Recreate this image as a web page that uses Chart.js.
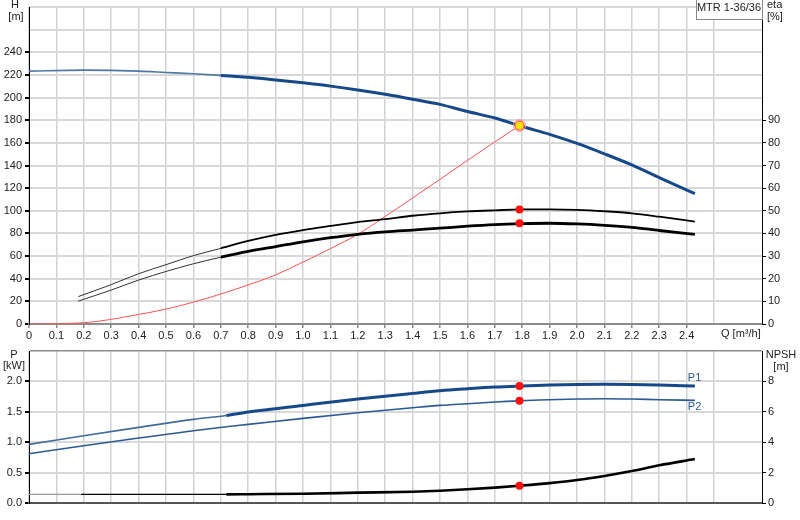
<!DOCTYPE html>
<html>
<head>
<meta charset="utf-8">
<title>MTR 1-36/36</title>
<script src="https://cdn.jsdelivr.net/npm/chart.js@4.4.1/dist/chart.umd.min.js"></script>
<style>
  body { margin: 0; background: #fff; }
  #wrap { position: relative; width: 800px; height: 520px; }
  canvas { position: absolute; left: 0; }
  #curves { top: 0; }
  #power { top: 340px; }
</style>
</head>
<body>
<div id="wrap">
  <canvas id="curves" width="800" height="340"></canvas>
  <canvas id="power" width="800" height="180"></canvas>
</div>
<script>
// values, Q in m3/h
const qHead = [0, 0.2, 0.4, 0.5, 0.6, 0.7, 0.8, 0.9, 1.0, 1.1, 1.2, 1.3, 1.4, 1.5, 1.6, 1.7, 1.8, 1.9, 2.0, 2.1, 2.2, 2.3, 2.43];
const head = [223.4, 224.2, 223.4, 222.2, 221, 219.6, 217.9, 215.6, 213, 210.1, 206.7, 202.9, 198.6, 194, 187.7, 182, 174.4, 167.5, 159.5, 150.3, 140.5, 129.3, 115.1];

const qSystem = [0, 0.2, 0.4, 0.5, 0.6, 0.7, 0.8, 0.9, 1.0, 1.1, 1.2, 1.3, 1.4, 1.5, 1.6, 1.7, 1.79];
const systemHead = [0, 1.1, 8.4, 13.2, 19.3, 26.5, 34.5, 43.4, 54.7, 66.6, 79.2, 95, 111.3, 127.8, 144.5, 160.8, 175.3];

const qEta = [0.18, 0.3, 0.4, 0.5, 0.6, 0.7, 0.8, 0.9, 1.0, 1.1, 1.2, 1.3, 1.4, 1.5, 1.6, 1.7, 1.8, 1.9, 2.0, 2.1, 2.2, 2.3, 2.43];
const etaPump = [12.1, 17.4, 22.2, 26.2, 30.2, 33.4, 36.7, 39.4, 41.5, 43.3, 45, 46.3, 47.8, 48.9, 49.7, 50.2, 50.6, 50.6, 50.4, 49.8, 48.9, 47.4, 45.2];
const etaTotal = [10.1, 15, 19.4, 23.2, 26.6, 29.5, 32.1, 34.2, 36.3, 38.1, 39.6, 40.7, 41.5, 42.3, 43.2, 43.9, 44.3, 44.5, 44.2, 43.6, 42.7, 41.3, 39.6];

const qPower = [0, 0.2, 0.4, 0.6, 0.72, 0.8, 1.0, 1.2, 1.4, 1.5, 1.6, 1.7, 1.8, 1.9, 2.0, 2.1, 2.2, 2.3, 2.43];
const p1 = [0.964, 1.107, 1.244, 1.375, 1.44, 1.496, 1.605, 1.71, 1.803, 1.847, 1.879, 1.907, 1.925, 1.94, 1.95, 1.953, 1.95, 1.94, 1.923];
const p2 = [0.811, 0.942, 1.068, 1.189, 1.254, 1.293, 1.392, 1.485, 1.567, 1.605, 1.633, 1.66, 1.684, 1.699, 1.71, 1.715, 1.71, 1.699, 1.688];

const qNpsh = [0, 0.19, 0.4, 0.6, 0.72, 0.8, 1.0, 1.2, 1.4, 1.5, 1.6, 1.7, 1.8, 1.9, 2.0, 2.1, 2.2, 2.3, 2.43];
const npsh = [0.57, 0.57, 0.57, 0.57, 0.57, 0.58, 0.61, 0.68, 0.745, 0.81, 0.9, 1.01, 1.15, 1.31, 1.51, 1.78, 2.1, 2.48, 2.89];

// duty point
const dutyQ = 1.79;
const dutyHead = 175.3;
const dutyEta = [50.6, 44.5];
const dutyP1 = 1.923;
const dutyP2 = 1.682;
const dutyNpsh = 1.14;

const qMax = 2.675;

Chart.defaults.font.family = '"Liberation Sans", Arial, sans-serif';
Chart.defaults.font.size = 11;
Chart.defaults.color = '#222';
Chart.defaults.animation = false;

const pts = (xs, ys) => xs.map((x, i) => ({ x: x, y: ys[i] }));
const from = (q, before, after) => c => c.p0.parsed.x < q - 1e-6 ? before : after;
const fixW = w => s => { s.width = w; s.paddingTop = 0; s.paddingBottom = 0; };
const fixH = h => s => { s.height = h; s.paddingLeft = 0; s.paddingRight = 0; };
const hidden = 'rgba(0,0,0,0)';

function curve(data, axis, color, width, extra) {
  return Object.assign({
    data: data, yAxisID: axis, borderColor: color, borderWidth: width,
    pointRadius: 0, fill: false, cubicInterpolationMode: 'monotone'
  }, extra || {});
}
function dot(x, y, axis) {
  return { data: [{ x: x, y: y }], yAxisID: axis, showLine: false,
    pointRadius: 4, pointBackgroundColor: '#ff1010', pointBorderWidth: 0 };
}

function textPlugin(items) {
  return {
    id: 'texts',
    afterDraw(chart) {
      const c = chart.ctx;
      c.save();
      c.font = '11px "Liberation Sans", Arial, sans-serif';
      c.textBaseline = 'middle';
      items(chart).forEach(t => {
        if (t.box) {
          c.fillStyle = '#fff';
          c.fillRect(t.box[0], t.box[1], t.box[2], t.box[3]);
          c.strokeStyle = '#888';
          c.lineWidth = 1;
          c.strokeRect(t.box[0] + 0.5, t.box[1] + 0.5, t.box[2], t.box[3]);
        }
        c.fillStyle = t.color || '#222';
        c.textAlign = t.align || 'center';
        c.fillText(t.text, t.x, t.y);
      });
      c.restore();
    }
  };
}

// ---- Q-H / eta chart ----
new Chart(document.getElementById('curves'), {
  type: 'line',
  data: {
    datasets: [
      { data: [{ x: dutyQ, y: dutyHead }], yAxisID: 'y', showLine: false,
        pointRadius: 4.5, pointBackgroundColor: '#ffe400', pointBorderColor: '#ff5a5a', pointBorderWidth: 1.2 },
      { data: [{ x: dutyQ, y: dutyHead }], yAxisID: 'y', showLine: false,
        pointRadius: 6, pointBackgroundColor: hidden, pointBorderColor: '#ff9a9a', pointBorderWidth: 1 },
      dot(dutyQ, dutyEta[0], 'yEta'),
      dot(dutyQ, dutyEta[1], 'yEta'),
      curve(pts(qHead, head), 'y', '#17498a', 3, {
        segment: { borderWidth: from(0.7, 1.6, 3), borderColor: from(0.7, '#4f77a6', '#17498a') } }),
      curve(pts(qEta, etaPump), 'yEta', '#000', 1.8, {
        segment: { borderWidth: from(0.7, 1, 1.8), borderColor: from(0.7, '#333', '#000') } }),
      curve(pts(qEta, etaTotal), 'yEta', '#000', 2.8, {
        segment: { borderWidth: from(0.7, 1, 2.8), borderColor: from(0.7, '#333', '#000') } }),
      curve(pts(qSystem, systemHead), 'y', '#ff5252', 1)
    ]
  },
  options: {
    responsive: false,
    devicePixelRatio: 1,
    layout: { padding: 0 },
    plugins: { legend: { display: false }, tooltip: { enabled: false } },
    scales: {
      x: {
        type: 'linear', min: 0, max: qMax,
        afterBuildTicks: s => { s.ticks = s.ticks.filter(t => t.value < 2.65); },
        ticks: { stepSize: 0.1, padding: 1, maxRotation: 0, autoSkip: false,
          callback: v => v > 2.45 ? '' : (Math.abs(v) < 1e-9 ? '0' : v.toFixed(1)) },
        grid: { color: '#cfd3d7', lineWidth: 1.5, tickLength: 4,
          tickColor: c => c.tick && c.tick.value > 2.45 ? hidden : '#888' },
        border: { color: '#8c8c8c', width: 2 },
        afterFit: fixH(16)
      },
      y: {
        position: 'left', min: 0, max: 280,
        ticks: { stepSize: 20, padding: 3, callback: v => v > 240 ? '' : v },
        grid: { color: '#d8d8d8', lineWidth: 2, tickLength: 4,
          tickColor: c => c.tick && c.tick.value > 240 ? hidden : '#000' },
        border: { color: '#000', width: 1 },
        afterFit: fixW(29)
      },
      yEta: {
        position: 'right', min: 0, max: 140,
        afterBuildTicks: s => { s.ticks = s.ticks.filter(t => t.value <= 90); },
        ticks: { stepSize: 10, padding: 2 },
        grid: { drawOnChartArea: false, tickLength: 4, tickColor: '#000' },
        border: { color: '#000', width: 1 },
        afterFit: fixW(38)
      }
    }
  },
  plugins: [textPlugin(() => [
    { text: 'H', x: 15, y: 5 },
    { text: '[m]', x: 16, y: 17 },
    { text: 'eta', x: 767, y: 5, align: 'left' },
    { text: '[%]', x: 767, y: 17, align: 'left' },
    { text: 'Q [m³/h]', x: 721, y: 334, align: 'left' },
    { text: 'MTR 1-36/36', x: 729, y: 8, box: [696, -1, 66, 20] }
  ])]
});

// ---- P / NPSH chart ----
new Chart(document.getElementById('power'), {
  type: 'line',
  data: {
    datasets: [
      dot(dutyQ, dutyP1, 'yP'),
      dot(dutyQ, dutyP2, 'yP'),
      dot(dutyQ, dutyNpsh, 'yN'),
      curve(pts(qPower, p1), 'yP', '#17498a', 3, {
        segment: { borderWidth: from(0.72, 1.6, 3), borderColor: from(0.72, '#3f6a9e', '#17498a') } }),
      curve(pts(qPower, p2), 'yP', '#2a5a94', 1.6),
      curve(pts(qNpsh, npsh), 'yN', '#000', 2.6, {
        segment: { borderWidth: from(0.72, 1.3, 2.6), borderColor: from(0.19, '#9a9a9a', '#000') } })
    ]
  },
  options: {
    responsive: false,
    devicePixelRatio: 1,
    layout: { padding: { top: 11, left: 0, right: 0, bottom: 0 } },
    plugins: { legend: { display: false }, tooltip: { enabled: false } },
    scales: {
      x: {
        type: 'linear', min: 0, max: qMax,
        afterBuildTicks: s => { s.ticks = s.ticks.filter(t => t.value < 2.65); },
        ticks: { stepSize: 0.1, display: false, autoSkip: false },
        grid: { color: '#cfd3d7', lineWidth: 1.5, drawTicks: false },
        border: { color: '#555', width: 2 },
        afterFit: fixH(17)
      },
      yP: {
        position: 'left', min: 0, max: 2.5,
        ticks: { stepSize: 0.5, padding: 3, callback: v => v > 2.05 ? '' : v.toFixed(1) },
        grid: {
          color: c => c.tick && c.tick.value > 2.45 ? '#8c8c8c' : '#d8d8d8',
          lineWidth: c => c.tick && c.tick.value > 2.45 ? 1.5 : 2,
          tickLength: 4,
          tickColor: c => c.tick && c.tick.value > 2.05 ? hidden : '#000' },
        border: { color: '#000', width: 1 },
        afterFit: fixW(29)
      },
      yN: {
        position: 'right', min: 0, max: 10,
        afterBuildTicks: s => { s.ticks = s.ticks.filter(t => t.value <= 8); },
        ticks: { stepSize: 2, padding: 2 },
        grid: { drawOnChartArea: false, tickLength: 4, tickColor: '#000' },
        border: { color: '#000', width: 1 },
        afterFit: fixW(38)
      }
    }
  },
  plugins: [textPlugin(chart => {
    const last = qPower.length - 1;
    const xEnd = chart.scales.x.getPixelForValue(qPower[last]);
    return [
      { text: 'P', x: 14, y: 15 },
      { text: '[kW]', x: 14, y: 26 },
      { text: 'NPSH', x: 781, y: 15 },
      { text: '[m]', x: 781, y: 27 },
      { text: 'P1', x: xEnd - 7, y: chart.scales.yP.getPixelForValue(p1[last]) - 8, align: 'left', color: '#2a5a94' },
      { text: 'P2', x: xEnd - 7, y: chart.scales.yP.getPixelForValue(p2[last]) + 7, align: 'left', color: '#2a5a94' }
    ];
  })]
});
</script>
</body>
</html>
